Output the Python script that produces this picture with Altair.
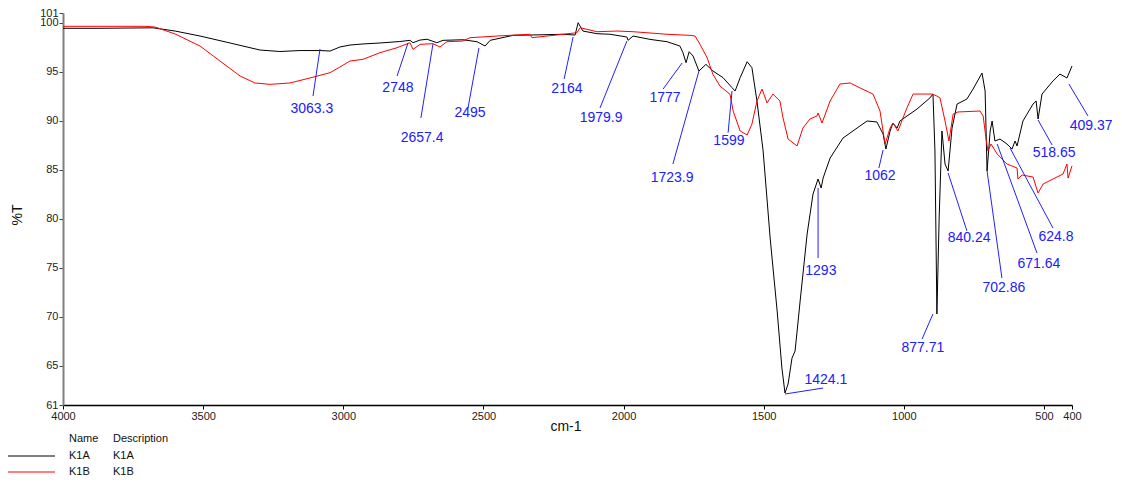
import altair as alt
import pandas as pd

# K1A (black) spectrum: wavenumber (cm-1) and %T
k1a_wn = [4000, 3868, 3679, 3600, 3511, 3404, 3297, 3226, 3154, 3083, 3047, 3012, 2976, 2930, 2869,
          2798, 2762, 2751, 2726, 2701, 2666, 2644, 2573, 2523, 2494, 2476, 2394, 2334, 2216, 2173,
          2162, 2145, 2095, 2048, 1988, 1984, 1966, 1906, 1845, 1799, 1788, 1777, 1766, 1752, 1731,
          1706, 1681, 1645, 1613, 1602, 1584, 1559, 1542, 1524, 1502, 1477, 1452, 1435, 1424, 1413,
          1399, 1388, 1370, 1345, 1324, 1306, 1295, 1288, 1263, 1217, 1167, 1131, 1096, 1074, 1064,
          1049, 1039, 1024, 1014, 953, 907, 896, 889, 882, 874, 864, 853, 842, 828, 810, 775, 753,
          721, 710, 703, 692, 685, 675, 657, 632, 614, 603, 596, 575, 539, 528, 521, 507, 468, 443,
          418, 400]
k1a_t = [99.44, 99.44, 99.49, 99.16, 98.65, 97.94, 97.22, 97.07, 97.17, 97.17, 97.12, 97.53, 97.73, 97.84, 97.94,
         98.09, 98.21, 97.97, 98.24, 98.32, 97.97, 98.21, 98.27, 98.07, 97.63, 98.21, 98.72, 98.75, 98.83, 98.75,
         100.01, 99.16, 98.89, 98.83, 98.55, 98.21, 98.65, 98.31, 98.07, 97.63, 96.95, 95.93, 97.05, 96.61, 95.08,
         95.76, 95.08, 94.40, 93.38, 93.04, 94.40, 96.03, 95.42, 92.02, 86.92, 78.04, 70.59, 64.77, 62.22, 63.14,
         65.79, 66.51, 71.61, 78.45, 82.53, 84.06, 83.14, 84.16, 86.20, 88.24, 89.26, 89.98, 89.88, 88.65, 87.12,
         88.96, 89.77, 89.26, 89.98, 91.20, 92.33, 92.73, 86.92, 70.29, 80.08, 88.96, 85.59, 84.88, 89.26, 91.71, 92.22, 93.24,
         94.87, 93.04, 84.88, 88.96, 89.98, 87.94, 88.14, 87.63, 87.12, 87.94, 87.43, 89.98, 91.71, 92.02, 90.18, 92.73, 94.06, 94.77,
         94.37, 95.59]

# K1B (red) spectrum
k1b_wn = [4000, 3707, 3672, 3600, 3511, 3440, 3368, 3315, 3261, 3190, 3119, 3047, 3012, 2976, 2930,
          2869, 2808, 2762, 2751, 2726, 2680, 2655, 2630, 2573, 2548, 2451, 2334, 2327, 2216, 2166,
          2155, 2095, 2023, 1966, 1845, 1763, 1745, 1727, 1702, 1681, 1656, 1620, 1609, 1584, 1559,
          1542, 1524, 1506, 1488, 1467, 1442, 1431, 1413, 1381, 1360, 1335, 1310, 1306, 1292, 1263,
          1228, 1192, 1156, 1110, 1085, 1067, 1049, 1039, 1021, 989, 967, 932, 899, 882, 871, 853,
          839, 824, 807, 728, 717, 707, 700, 689, 667, 632, 596, 593, 578, 539, 521, 503, 468, 432,
          418, 414, 400]
k1b_t = [99.64, 99.64, 99.57, 98.86, 97.63, 96.10, 94.57, 93.86, 93.72, 93.86, 94.37, 94.91, 95.49, 96.10, 96.27,
         96.95, 97.46, 97.97, 97.29, 97.80, 97.87, 97.53, 98.07, 98.14, 98.48, 98.65, 98.83, 98.48, 98.83, 98.99,
         99.50, 99.09, 99.16, 99.09, 98.83, 98.72, 98.65, 97.80, 96.44, 94.74, 93.55, 92.70, 91.00, 88.96, 88.55,
         89.67, 92.02, 93.24, 91.82, 92.73, 92.02, 90.29, 88.14, 87.43, 89.26, 90.18, 90.49, 90.80, 89.77, 92.02,
         93.75, 93.86, 93.35, 92.73, 91.00, 87.63, 89.26, 89.77, 88.96, 91.31, 92.73, 92.73, 92.73, 92.53, 92.33, 89.98,
         87.94, 90.69, 90.90, 91.00, 90.49, 88.24, 86.92, 87.63, 86.61, 85.59, 85.18, 84.06, 84.47, 84.26, 82.63, 83.55, 84.06, 84.57,
         85.59, 84.16, 85.41]

# Peak annotations: label, leader line start/end, label position
ann_labels = ["3063.3", "2748", "2657.4", "2495", "2164", "1979.9", "1777", "1723.9", "1599",
              "1424.1", "1293", "1062", "877.71", "840.24", "702.86", "671.64", "624.8", "518.65", "409.37"]
ann_x1 = [3083, 2769, 2680, 2516, 2180, 1988, 1791, 1731, 1613, 1424, 1306, 1074, 896, 842, 703, 667, 621, 521, 411]
ann_y1 = [97.33, 97.94, 97.84, 97.43, 98.55, 98.14, 95.90, 95.08, 93.04, 62.12, 83.14, 87.02, 70.29, 84.67, 84.88, 87.63, 87.22, 90.08, 93.75]
ann_x2 = [3108, 2808, 2723, 2555, 2212, 2084, 1859, 1824, 1627, 1288, 1306, 1089, 935, 775, 650, 525, 468, 471, 343]
ann_y2 = [92.53, 94.57, 90.29, 91.31, 94.27, 91.31, 93.24, 85.59, 88.79, 62.73, 76.00, 85.18, 67.73, 78.77, 73.96, 76.51, 79.06, 87.53, 90.49]
ann_tx = [3112, 2805, 2719, 2548, 2202, 2080, 1852, 1827, 1624, 1278, 1296, 1085, 932, 767, 643, 518, 457, 464, 332]
ann_ty = [91.20, 93.35, 88.24, 90.80, 93.24, 90.29, 92.33, 84.16, 87.94, 63.55, 74.67, 84.37, 66.81, 78.04, 72.94, 75.39, 78.14, 86.71, 89.47]

x_ticks = [4000, 3500, 3000, 2500, 2000, 1500, 1000, 500, 400]
y_ticks = [61, 65, 70, 75, 80, 85, 90, 95, 100, 101]

legend_names = ["K1A", "K1B"]
legend_colors = ["#000000", "#ff0000"]

FONT = "Liberation Sans"
BLUE = "#2020ff"
W, H = 1009, 392

df_a = pd.DataFrame({"wn": k1a_wn, "t": k1a_t})
df_b = pd.DataFrame({"wn": k1b_wn, "t": k1b_t})
df_ann = pd.DataFrame({"label": ann_labels, "x1": ann_x1, "y1": ann_y1, "x2": ann_x2, "y2": ann_y2,
                       "tx": ann_tx, "ty": ann_ty})

xscale = alt.Scale(domain=[400, 4000], reverse=True, nice=False, zero=False)
yscale = alt.Scale(domain=[61, 101], nice=False, zero=False)

xaxis = alt.Axis(values=x_ticks, title=None, grid=False, format="d", labelFont=FONT, labelFontSize=11,
                 labelColor="#222", domainColor="#000", domainWidth=1.5, tickColor="#000",
                 tickSize=4, labelPadding=1, labelFlush=False, labelOverlap=False)
yaxis = alt.Axis(values=y_ticks, title=None, grid=False, format="d", labelFont=FONT, labelFontSize=11,
                 labelColor="#222", domainColor="#808080", domainWidth=2, tickColor="#444",
                 tickSize=4, labelPadding=1, labelOverlap=False)

line_a = alt.Chart(df_a).mark_line(color="#000000", strokeWidth=1).encode(
    x=alt.X("wn:Q", scale=xscale, axis=xaxis),
    y=alt.Y("t:Q", scale=yscale, axis=yaxis),
)
line_b = alt.Chart(df_b).mark_line(color="#ff0000", strokeWidth=1).encode(
    x=alt.X("wn:Q", scale=xscale),
    y=alt.Y("t:Q", scale=yscale),
)

ann_rules = alt.Chart(df_ann).mark_rule(color=BLUE, strokeWidth=1).encode(
    x=alt.X("x1:Q", scale=xscale), x2="x2:Q",
    y=alt.Y("y1:Q", scale=yscale), y2="y2:Q",
)
ann_text = alt.Chart(df_ann).mark_text(color=BLUE, font=FONT, fontSize=14, align="center",
                                       baseline="middle").encode(
    x=alt.X("tx:Q", scale=xscale),
    y=alt.Y("ty:Q", scale=yscale),
    text="label:N",
)

# Axis titles
xtitle = alt.Chart(pd.DataFrame({"s": ["cm-1"]})).mark_text(
    font=FONT, fontSize=14, color="#111", align="center", baseline="middle").encode(
    x=alt.value(503), y=alt.value(414), text="s:N")
ytitle = alt.Chart(pd.DataFrame({"s": ["%T"]})).mark_text(
    font=FONT, fontSize=14, color="#111", align="center", baseline="middle", angle=270).encode(
    x=alt.value(-45), y=alt.value(202), text="s:N")

# Legend table below the chart
hdr = alt.Chart(pd.DataFrame({"s": ["Name"]})).mark_text(
    font=FONT, fontSize=11, color="#111", align="left", baseline="middle").encode(
    x=alt.value(6), y=alt.value(426), text="s:N")
hdr2 = alt.Chart(pd.DataFrame({"s": ["Description"]})).mark_text(
    font=FONT, fontSize=11, color="#111", align="left", baseline="middle").encode(
    x=alt.value(50), y=alt.value(426), text="s:N")

leg_layers = []
for i, (name, col) in enumerate(zip(legend_names, legend_colors)):
    yy = 443 + 16 * i
    d = pd.DataFrame({"s": [name]})
    leg_layers.append(alt.Chart(d).mark_rule(color=col, strokeWidth=1).encode(
        x=alt.value(-55), x2=alt.value(-8), y=alt.value(yy)))
    leg_layers.append(alt.Chart(d).mark_text(
        font=FONT, fontSize=11, color="#111", align="left", baseline="middle").encode(
        x=alt.value(6), y=alt.value(yy), text="s:N"))
    leg_layers.append(alt.Chart(d).mark_text(
        font=FONT, fontSize=11, color="#111", align="left", baseline="middle").encode(
        x=alt.value(50), y=alt.value(yy), text="s:N"))

chart = alt.layer(line_a, line_b, ann_rules, ann_text, xtitle, ytitle, hdr, hdr2, *leg_layers).properties(
    width=W, height=H,
    autosize=alt.AutoSizeParams(type="none"),
    padding={"left": 55, "top": 5, "right": 40, "bottom": 72},
    background="white",
).configure_view(stroke=None)

chart.save("out.html", embed_options={"renderer": "svg", "actions": False})
